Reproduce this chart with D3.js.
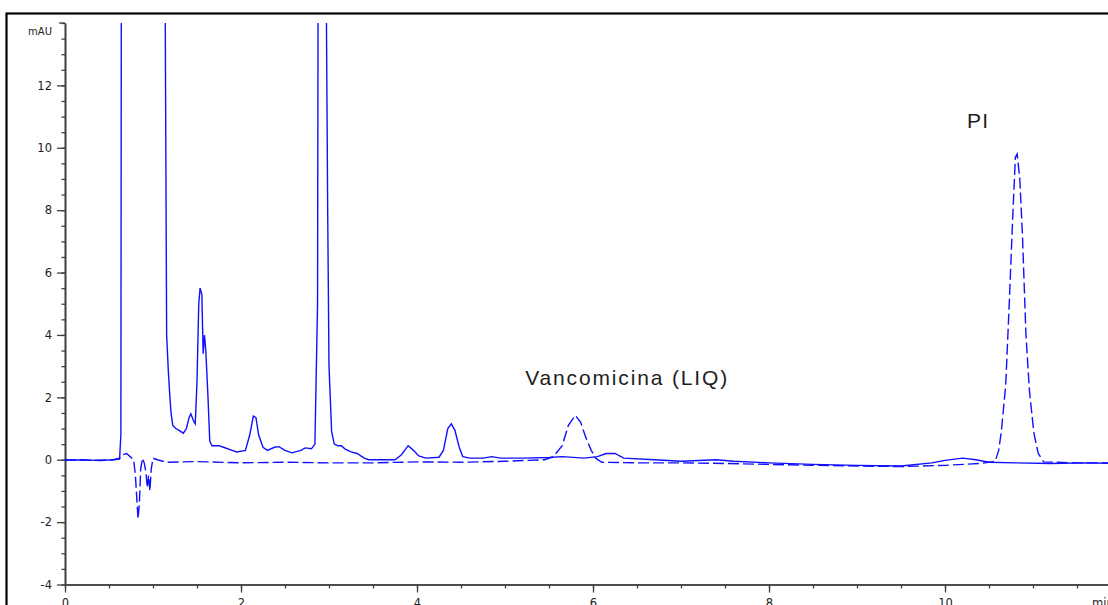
<!DOCTYPE html>
<html>
<head>
<meta charset="utf-8">
<script src="https://cdn.jsdelivr.net/npm/d3@7"></script>
<style>
  html, body { margin: 0; padding: 0; background: #fff; overflow: hidden; }
  svg { display: block; }
</style>
</head>
<body>
<svg id="chart" width="1108" height="605"></svg>
<script>
// ---- DATA ----
const xMajorTicks = [0, 2, 4, 6, 8, 10];
const yMajorTicks = [-4, -2, 0, 2, 4, 6, 8, 10, 12];
const xUnit = "min";
const yUnit = "mAU";

// sample chromatogram (solid line): retention time (min) and absorbance (mAU)
const sampleTime = [0, 0.2, 0.4, 0.55, 0.62, 0.635, 0.645, 1.13, 1.138, 1.155, 1.175, 1.19, 1.205, 1.225, 1.26, 1.3, 1.345, 1.38, 1.41, 1.43, 1.46, 1.48, 1.5, 1.52, 1.535, 1.555, 1.57, 1.585, 1.6, 1.625, 1.645, 1.67, 1.75, 1.8, 1.9, 1.95, 2.05, 2.1, 2.14, 2.17, 2.2, 2.25, 2.3, 2.38, 2.43, 2.5, 2.58, 2.68, 2.73, 2.8, 2.84, 2.87, 2.885, 2.95, 2.97, 2.985, 3.0, 3.03, 3.06, 3.1, 3.14, 3.18, 3.25, 3.32, 3.4, 3.45, 3.75, 3.82, 3.9, 3.96, 4.02, 4.1, 4.25, 4.3, 4.35, 4.39, 4.43, 4.48, 4.52, 4.6, 4.75, 4.85, 4.95, 5.2, 5.5, 5.65, 5.9, 6.05, 6.15, 6.25, 6.35, 6.7, 7.0, 7.4, 7.6, 8.0, 8.5, 9.0, 9.5, 9.85, 10.0, 10.2, 10.35, 10.5, 10.8, 11.2, 11.6, 12];
const sampleAbs  = [-0.02, 0.0, -0.03, 0.0, 0.02, 0.8, 30, 30, 15, 4.0, 2.8, 2.1, 1.5, 1.1, 1.0, 0.93, 0.85, 1.0, 1.35, 1.47, 1.25, 1.15, 2.5, 5.0, 5.5, 5.3, 3.4, 4.0, 3.5, 2.0, 0.6, 0.45, 0.45, 0.4, 0.3, 0.25, 0.3, 0.8, 1.4, 1.35, 0.8, 0.4, 0.3, 0.4, 0.42, 0.3, 0.22, 0.3, 0.38, 0.35, 0.5, 5, 30, 30, 14.5, 8, 3, 0.9, 0.5, 0.45, 0.45, 0.35, 0.25, 0.2, 0.05, 0.0, 0.0, 0.15, 0.45, 0.3, 0.12, 0.05, 0.08, 0.3, 1.0, 1.15, 0.95, 0.4, 0.1, 0.05, 0.05, 0.1, 0.05, 0.05, 0.07, 0.1, 0.05, 0.1, 0.2, 0.2, 0.05, 0.0, -0.05, 0.0, -0.05, -0.1, -0.15, -0.18, -0.2, -0.1, -0.02, 0.05, 0.0, -0.08, -0.1, -0.12, -0.1, -0.12];

// vancomycin standard (dashed line)
const standardTime = [0, 0.3, 0.55, 0.62, 0.65, 0.7, 0.74, 0.78, 0.8, 0.815, 0.83, 0.845, 0.86, 0.88, 0.9, 0.92, 0.935, 0.95, 0.965, 0.98, 1.0, 1.05, 1.15, 1.5, 2.0, 2.5, 3.0, 3.5, 4.0, 4.5, 5.0, 5.45, 5.55, 5.65, 5.72, 5.8, 5.86, 5.92, 5.98, 6.03, 6.1, 6.5, 7.0, 7.5, 8.0, 8.5, 9.0, 9.5, 10.0, 10.4, 10.57, 10.61, 10.64, 10.69, 10.73, 10.77, 10.8, 10.82, 10.85, 10.88, 10.92, 10.96, 11.01, 11.06, 11.12, 11.5, 12];
const standardAbs  = [0.0, -0.02, 0.0, 0.05, 0.15, 0.2, 0.1, 0.0, -0.5, -1.2, -1.9, -1.4, -0.3, 0.05, -0.1, -0.4, -0.9, -0.5, -1.0, -0.3, 0.05, 0.0, -0.08, -0.06, -0.1, -0.08, -0.1, -0.1, -0.07, -0.08, -0.05, 0.0, 0.1, 0.45, 1.1, 1.42, 1.2, 0.7, 0.3, 0.05, -0.08, -0.1, -0.1, -0.12, -0.15, -0.18, -0.2, -0.22, -0.18, -0.12, -0.05, 0.3, 0.9, 2.4, 5.0, 7.8, 9.7, 9.8, 9.0, 7.2, 4.0, 2.2, 0.85, 0.2, -0.07, -0.1, -0.1];

const peakLabels = ["Vancomicina (LIQ)", "PI"];
const peakLabelTime = [5.23, 10.25];
const peakLabelAbs = [2.4, 10.65];

// ---- DRAW ----
const svg = d3.select("#chart");
const plotLeft = 65, plotTop = 23, plotBottom = 584.5;

const x = d3.scaleLinear().domain([0, 12]).range([plotLeft, plotLeft + 88 * 12]);
const y = d3.scaleLinear().domain([-4, 14]).range([plotBottom, plotTop]);

const axisColor = "#404040";
const lineColor = "#1010ff";

// outer frame
svg.append("rect")
  .attr("x", 6.5).attr("y", 13.5)
  .attr("width", 1130).attr("height", 620)
  .attr("fill", "none").attr("stroke", "#000").attr("stroke-width", 2.2);

// clip
svg.append("clipPath").attr("id", "clip")
  .append("rect").attr("x", plotLeft).attr("y", plotTop)
  .attr("width", 1108 - plotLeft).attr("height", plotBottom - plotTop);

const fmt = d => String(d);

// Y axis minor ticks
const yMinor = d3.range(-4, 14.01, 0.5);
const yAxisMinor = d3.axisLeft(y).tickValues(yMinor).tickSize(3.5).tickSizeOuter(0).tickFormat("");
const gyMin = svg.append("g").attr("transform", `translate(${plotLeft},0)`).call(yAxisMinor);
const yAxis = d3.axisLeft(y).tickValues(yMajorTicks).tickSize(8).tickSizeOuter(0).tickPadding(5).tickFormat(fmt);
const gy = svg.append("g").attr("transform", `translate(${plotLeft},0)`).call(yAxis);

// X axis
const xMinor = d3.range(0, 12.01, 0.5);
const xAxisMinor = d3.axisBottom(x).tickValues(xMinor).tickSize(4).tickSizeOuter(0).tickFormat("");
const gxMin = svg.append("g").attr("transform", `translate(0,${plotBottom})`).call(xAxisMinor);
const xAxis = d3.axisBottom(x).tickValues(xMajorTicks).tickSize(8).tickSizeOuter(0).tickPadding(5).tickFormat(fmt);
const gx = svg.append("g").attr("transform", `translate(0,${plotBottom})`).call(xAxis);

[gy, gyMin, gx, gxMin].forEach(g => {
  g.selectAll("path.domain").attr("stroke", axisColor).attr("stroke-width", 1.6);
  g.selectAll(".tick line").attr("stroke", axisColor).attr("stroke-width", 1.3);
  g.selectAll(".tick text").attr("fill", "#222").attr("font-family", "DejaVu Sans").attr("font-size", 11.5);
});
gx.selectAll(".tick text").attr("dy", "0.85em");

// top end tick of y axis
svg.append("line")
  .attr("x1", plotLeft - 6).attr("x2", plotLeft)
  .attr("y1", y(14)).attr("y2", y(14))
  .attr("stroke", axisColor).attr("stroke-width", 1.3);

// unit labels
svg.append("text").text(yUnit)
  .attr("x", 52).attr("y", y(14) + 12)
  .attr("text-anchor", "end")
  .attr("font-family", "DejaVu Sans").attr("font-size", 10).attr("fill", "#222");
svg.append("text").text(xUnit)
  .attr("x", 1092).attr("y", plotBottom + 22)
  .attr("font-family", "DejaVu Sans").attr("font-size", 11.5).attr("fill", "#222");

// lines
const lineGen = d3.line().x(d => x(d[0])).y(d => y(d[1]));
const plot = svg.append("g").attr("clip-path", "url(#clip)");

plot.append("path")
  .datum(d3.zip(standardTime, standardAbs))
  .attr("d", lineGen)
  .attr("fill", "none").attr("stroke", lineColor)
  .attr("stroke-width", 1.4).attr("stroke-dasharray", "11,4");

plot.append("path")
  .datum(d3.zip(sampleTime, sampleAbs))
  .attr("d", lineGen)
  .attr("fill", "none").attr("stroke", lineColor)
  .attr("stroke-width", 1.4);

// peak labels
const lblWidths = [202, 21];
peakLabels.forEach((t, i) => {
  svg.append("text").text(t)
    .attr("x", x(peakLabelTime[i])).attr("y", y(peakLabelAbs[i]))
    .attr("font-family", "Liberation Sans, Arial, sans-serif")
    .attr("font-size", 21).attr("fill", "#1e1e1e")
    .attr("textLength", lblWidths[i]).attr("lengthAdjust", "spacing");
});
</script>
</body>
</html>
